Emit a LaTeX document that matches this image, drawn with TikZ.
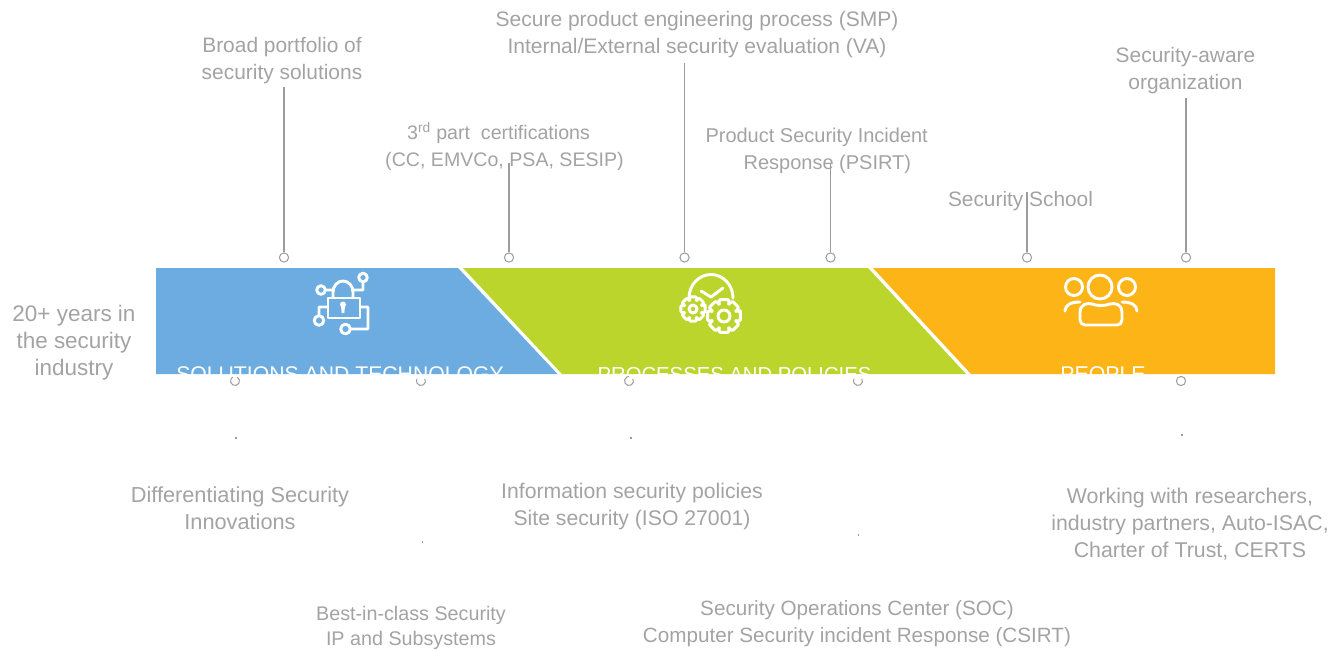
\documentclass[tikz,border=0pt]{standalone}
\usepackage{fontspec}
\setmainfont{Liberation Sans}
\usepackage{xcolor}
\usetikzlibrary{positioning,calc}
\definecolor{bandblue}{HTML}{6CACE0}
\definecolor{bandgreen}{HTML}{BBD52D}
\definecolor{bandorange}{HTML}{FDB417}
\definecolor{textgray}{HTML}{A3A3A5}
\definecolor{linegray}{HTML}{9C9C9E}
\newcommand{\gearicon}[3]{%
    \draw [iconline, fill=bandgreen, rounded corners=0.6pt] (#1,#2) +(-15:#3)
        foreach \a in {0,45,...,315} { -- +(\a-15:#3) -- +(\a+15:#3) -- +(\a+24:#3*0.76) -- +(\a+45-24:#3*0.76) } -- cycle;
}
\begin{document}
\begin{tikzpicture}[x=0.75pt, y=-0.75pt,
        caption/.style={text=textgray, align=center, font=\fontsize{#1}{20.25}\selectfont},
        caption/.default=15,
        bandtitle/.style={text=white, anchor=base, font=\fontsize{#1}{18}\selectfont},
        ringmark/.style={draw=linegray, circle, line width=0.75pt, inner sep=0pt, minimum size=6.9pt, fill=white},
        stem/.style={draw=linegray, line width=0.8pt},
        arcline/.style={draw=linegray, line width=0.75pt},
        speck/.style={fill=linegray, inner sep=0pt, minimum size=0.8pt},
        iconline/.style={draw=white, line width=2.2pt, line cap=round, line join=round}
    ]
        \useasboundingbox (0,0) rectangle (1342,650);

        % bands
        \fill [bandblue] (156,268) -- (458,268) -- (557.5,374) -- (156,374) -- cycle;
        \fill [bandgreen] (463,268) -- (868,268) -- (966,374) -- (562,374) -- cycle;
        \fill [bandorange] (873,268) -- (1275,268) -- (1275,374) -- (971,374) -- cycle;

        % band titles, cut at the lower edge
        \begin{scope}
            \clip (156,268) rectangle (1275,374);
            \node [bandtitle=15.9] (solutions) at (340,381) {SOLUTIONS AND TECHNOLOGY};
            \node [bandtitle=15.2] (processes) at (734.5,381) {PROCESSES AND POLICIES};
            \node [bandtitle=16] (people) at (1103,381) {PEOPLE};
        \end{scope}

        % upper labels
        \node [caption=15.7] (portfolio) at (282,61) {Broad portfolio of\\security solutions};
        \node [caption=14.7] (certs) at (504.5,146.5) {3\textsuperscript{rd} part~ certifications\hspace*{9pt}\\(CC, EMVCo, PSA, SESIP)};
        \node [caption=15.75] (smp) at (697,35) {Secure product engineering process (SMP)\\Internal/External security evaluation (VA)};
        \node [caption] (psirt) at (822,150.5) {Product Security Incident\hspace*{8pt}\\\hspace*{8pt}Response (PSIRT)};
        \node [caption=15.65] (school) at (1020.5,201) {Security School};
        \node [caption=15.7] (aware) at (1185.5,71) {Security-aware\\organization};

        % lower labels
        \node [caption=16.3] (innov) at (240,508.5) {Differentiating Security\\Innovations};
        \node [caption=14.8] (bestclass) at (411,627.5) {Best-in-class Security\\[-1.4pt]IP and Subsystems};
        \node [caption=15.9] (infosec) at (632,507) {Information security policies\\Site security (ISO 27001)};
        \node [caption=15.5] (soc) at (857,623.5) {Security Operations Center (SOC)\\Computer Security incident Response (CSIRT)};
        \node [caption=16] (research) at (1190,524) {Working with researchers,\\industry partners, Auto-ISAC,\\Charter of Trust, CERTS};

        \node [caption=16.85] (years) at (74,343) {20+ years in\\the security\\industry};

        % rings above the bands and their stems
        \node [ringmark] (ra) at (284,257.5) {};
        \node [ringmark] (rb) at (509,257.5) {};
        \node [ringmark] (rc) at (684.5,257.5) {};
        \node [ringmark] (rd) at (830.5,257.5) {};
        \node [ringmark] (re) at (1027,257.5) {};
        \node [ringmark] (rf) at (1186,257.5) {};
        \coordinate (ea) at (284,87);
        \coordinate (eb) at (509,163);
        \coordinate (ec) at (684.5,63);
        \coordinate (ed) at (830.5,163);
        \coordinate (ee) at (1027,192);
        \coordinate (ef) at (1186,98);
        \draw [stem] (ra) -- (ea);
        \draw [stem] (rb) -- (eb);
        \draw [stem] (rc) -- (ec);
        \draw [stem] (rd) -- (ed);
        \draw [stem] (re) -- (ee);
        \draw [stem] (rf) -- (ef);

        % rings under the bands, some with a gap
        \draw [arcline] (235,381) +(300:4.5) arc (300:600:4.5);
        \draw [arcline] (421,381) +(-30:4.5) arc (-30:210:4.5);
        \draw [arcline] (629,381) +(330:4.5) arc (330:630:4.5);
        \draw [arcline] (858,381) +(-30:4.5) arc (-30:210:4.5);
        \node [ringmark] (rg) at (1181,381) {};

        \node [speck] (sa) at (236,438) {};
        \node [speck] (sb) at (422.5,542) {};
        \node [speck] (sc) at (631,438) {};
        \node [speck] (sd) at (858.5,535) {};
        \node [speck] (se) at (1182,435) {};

        % lock icon
        \draw [iconline] (328,298) rectangle (360,318);
        \draw [iconline] (333,298) -- (333,292) arc (180:360:10 and 11) -- (353,298);
        \fill [white] (343,304.5) circle (3) (341,306) -- (345,306) -- (344.3,313) -- (341.7,313) -- cycle;
        \draw [iconline] (321,290) circle (4.3) (325.5,290) -- (333,290);
        \draw [iconline] (363,277.5) circle (4.3) (363,282) -- (363,290) -- (353,290);
        \draw [iconline] (319,320.5) circle (4.8) (319,315.5) -- (319,307) -- (328,307);
        \draw [iconline] (345.5,329) circle (4.8) (350.5,329) -- (368,329) -- (368,307) -- (360,307);

        % gears icon
        \draw [iconline] (689,298) arc (180:360:22 and 23.5);
        \draw [iconline] (701,291) -- (711,297) -- (723,288);
        \gearicon{693}{309}{12.5}
        \draw [iconline] (693,309) circle (4);
        \gearicon{724}{316}{17}
        \draw [iconline] (724,316) circle (6);

        % people icon
        \draw [iconline] (1100,287) circle (12);
        \draw [iconline] (1074,287) circle (8.5);
        \draw [iconline] (1127,287) circle (8.5);
        \draw [iconline] (1080,321) -- (1080,313) .. controls (1080,303) and (1088,303) .. (1092,304)
            .. controls (1097,306) and (1105,306) .. (1110,304)
            .. controls (1114,303) and (1122,303) .. (1122,313) -- (1122,320) arc (0:90:5) -- (1085,325) arc (90:180:5);
        \draw [iconline] (1065,311) .. controls (1065,305) and (1071,302) .. (1080,302);
        \draw [iconline] (1137,311) .. controls (1137,305) and (1131,302) .. (1122,302);
    \end{tikzpicture}
\end{document}
